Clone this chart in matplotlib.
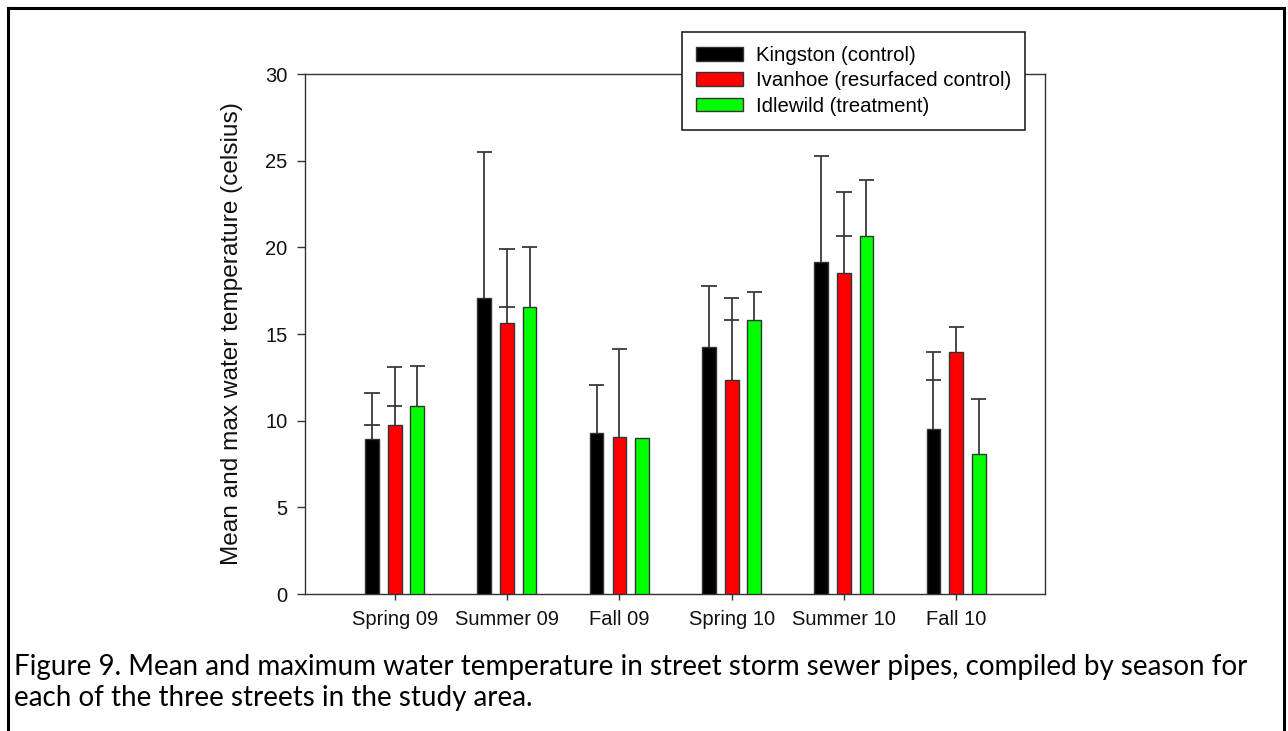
import matplotlib
matplotlib.use("Agg")
import matplotlib.pyplot as plt
from matplotlib.patches import Patch
from matplotlib.lines import Line2D
import numpy as np

# Seasons on the x axis
seasons = ["Spring 09", "Summer 09", "Fall 09", "Spring 10", "Summer 10", "Fall 10"]

# Street names for the legend
streets = ["Kingston (control)", "Ivanhoe (resurfaced control)", "Idlewild (treatment)"]
street_colors = ["#000000", "#ff0000", "#00ff00"]

# Mean water temperature (celsius)
kingston_mean = [8.95, 17.1, 9.3, 14.27, 19.18, 9.5]
ivanhoe_mean = [9.75, 15.62, 9.08, 12.37, 18.5, 13.98]
idlewild_mean = [10.87, 16.56, 8.98, 15.79, 20.68, 8.1]

# Maximum water temperature (celsius); None where no bar is drawn
kingston_max = [11.6, 25.49, 12.08, 17.79, 25.27, 13.98]
ivanhoe_max = [13.1, 19.89, 14.13, 17.06, 23.18, 15.4]
idlewild_max = [13.16, 20.0, None, 17.42, 23.87, 11.25]

# Secondary tick marks on the error bars
kingston_mark = [9.75, None, None, None, None, 12.35]
ivanhoe_mark = [10.87, 16.56, None, 15.79, 20.68, None]
idlewild_mark = [None, None, None, None, None, None]

y_ticks = [0, 5, 10, 15, 20, 25, 30]

caption_lines = [
    "Figure 9. Mean and maximum water temperature in street storm sewer pipes, compiled by season for",
    "each of the three streets in the study area.",
]

W, H = 1288, 731
fig = plt.figure(figsize=(W / 100, H / 100), dpi=100)
fig.patch.set_facecolor("white")

ax = fig.add_axes([305 / W, 137 / H, 740 / W, 520 / H])

means = [kingston_mean, ivanhoe_mean, idlewild_mean]
maxes = [kingston_max, ivanhoe_max, idlewild_max]
marks = [kingston_mark, ivanhoe_mark, idlewild_mark]
offsets = [-0.203, 0.0, 0.2]
bar_w = 0.122
cap_half = 0.068
err_color = "#3a3a3a"

x = np.arange(len(seasons))
for s in range(3):
    xs = x + offsets[s]
    ax.bar(xs, means[s], width=bar_w, color=street_colors[s],
           edgecolor="#333333", linewidth=1.0, zorder=3)
    for xi, m, mx, mk in zip(xs, means[s], maxes[s], marks[s]):
        if mx is not None:
            ax.vlines(xi, m, mx, color=err_color, linewidth=1.3, zorder=2)
            ax.hlines(mx, xi - cap_half, xi + cap_half, color=err_color,
                      linewidth=1.3, zorder=2)
        if mk is not None:
            ax.hlines(mk, xi - cap_half, xi + cap_half, color=err_color,
                      linewidth=1.3, zorder=2)

ax.set_xlim(-0.8, 5.79)
ax.set_ylim(0, 30)
ax.set_yticks(y_ticks)
ax.set_xticks(x)
ax.set_xticklabels(seasons)

for lbl in ax.get_xticklabels() + ax.get_yticklabels():
    lbl.set_fontfamily("Liberation Sans")
    lbl.set_fontsize(14.5)
    lbl.set_color("#111111")

ax.tick_params(axis="y", direction="out", length=6, width=1, pad=6.5, color="#333333")
ax.tick_params(axis="x", direction="out", length=4.5, width=1, pad=7, color="#333333")
for sp in ax.spines.values():
    sp.set_linewidth(1.0)
    sp.set_color("#333333")

ax.set_ylabel("Mean and max water temperature (celsius)", fontfamily="Liberation Sans",
              fontsize=17.6, color="#111111", va="center")
ax.yaxis.set_label_coords((232 - 305) / 740, 0.5)

handles = [Patch(facecolor=c, edgecolor="#333333", linewidth=1.0) for c in street_colors]
leg = ax.legend(handles, streets, loc="upper left",
                bbox_to_anchor=(682 / W, 1 - 32 / H), bbox_transform=fig.transFigure,
                prop={"family": "Liberation Sans", "size": 14.7},
                frameon=True, fancybox=False, framealpha=1.0, edgecolor="#222222",
                borderaxespad=0.0, borderpad=0.7, handlelength=2.3, handleheight=0.65,
                handletextpad=0.6, labelspacing=0.3)
leg.get_frame().set_linewidth(1.2)
leg.set_zorder(6)

# Page border around figure and caption
border_kw = dict(color="black", linewidth=2.2, transform=fig.transFigure)
fig.add_artist(Line2D([8 / W, 8 / W], [0, 1 - 8 / H], **border_kw))
fig.add_artist(Line2D([8 / W, 1284 / W], [1 - 8 / H, 1 - 8 / H], **border_kw))
fig.add_artist(Line2D([1284 / W, 1284 / W], [0, 1 - 8 / H], **border_kw))

# Caption, sized so that the first line spans the page width
cap_y = [1 - 667 / H, 1 - 698 / H]
caps = []
for line, yy in zip(caption_lines, cap_y):
    caps.append(fig.text(14 / W, yy, line, fontfamily="Lato", fontsize=15,
                         va="center", ha="left", color="black"))
fig.canvas.draw()
renderer = fig.canvas.get_renderer()
width_px = caps[0].get_window_extent(renderer).width
size = 15 * (1231 / width_px)
for c in caps:
    c.set_fontsize(size)

fig.savefig("out.png", dpi=100, facecolor="white")
